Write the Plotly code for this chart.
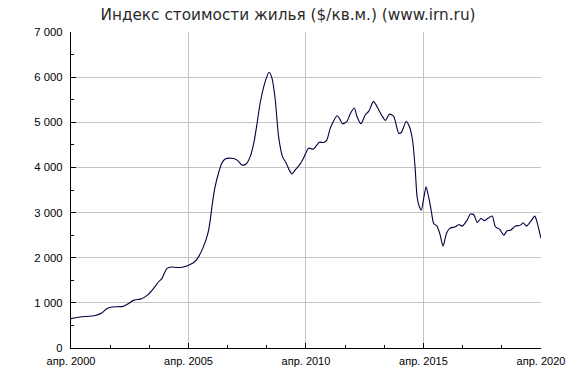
import pandas as pd
import plotly.graph_objects as go

# Months elapsed since April 2000 (fractional) and index values, $/sq.m.
month_offsets = [0, 4.6, 12.3, 15.7, 18.2, 20.8, 26.7, 29.3, 31.8, 36.1, 39.5, 42.1, 44.6, 46.4,
                 48.9, 51.5, 54.0, 57.4, 60.8, 63.4, 65.1, 67.6, 69.9, 71.1, 72.2, 73.6, 75.3,
                 77.0, 78.7, 82.1, 84.7, 87.2, 89.3, 91.5, 93.5, 94.9, 96.6, 99.2, 101.2, 102.6,
                 104.3, 106.0, 108.0, 109.9, 111.6, 112.8, 114.5, 116.7, 118.7, 121.3, 123.6,
                 124.7, 126.8, 129.0, 130.7, 132.4, 135.8, 137.0, 138.7, 140.9, 142.6, 144.7,
                 146.0, 148.1, 150.3, 152.0, 154.5, 157.1, 158.8, 160.5, 162.6, 164.8, 167.3,
                 168.7, 171.1, 172.8, 174.5, 175.8, 176.7, 177.9, 178.9, 180.1, 181.3, 182.6,
                 183.9, 185.2, 186.9, 188.3, 190.0, 191.7, 193.4, 196.3, 198.0, 199.7, 202.3,
                 203.9, 205.7, 207.4, 209.4, 211.1, 212.8, 215.1, 216.7, 218.9, 221.0, 222.7,
                 224.4, 227.0, 229.5, 230.9, 232.6, 234.6, 236.8, 237.7, 240.0]
price_usd = [650, 685, 720, 775, 870, 908, 922, 982, 1055, 1093, 1188, 1315, 1462, 1537,
             1760, 1795, 1782, 1795, 1848, 1922, 2018, 2240, 2537, 2833, 3204, 3573, 3871,
             4093, 4189, 4204, 4167, 4056, 4071, 4240, 4574, 4944, 5427, 5907, 6107, 5982,
             5500, 4684, 4240, 4093, 3929, 3856, 3944, 4056, 4204, 4427, 4404,
             4448, 4559, 4552, 4611, 4870, 5144, 5093, 4967, 5019, 5189, 5315,
             5130, 4967, 5167, 5241, 5463, 5278, 5144, 5041, 5181, 5130, 4759,
             4774, 5019, 4907, 4574, 3944, 3351, 3129, 3056, 3315, 3573, 3351,
             3056, 2759, 2700, 2538, 2256, 2538, 2649, 2685, 2737, 2700, 2833,
             2967, 2952, 2781, 2870, 2818, 2870, 2922, 2685, 2626, 2500, 2596,
             2611, 2700, 2722, 2774, 2700, 2796, 2922, 2833, 2426]

tick_dates = ["2000-04-01", "2005-04-01", "2010-04-01", "2015-04-01", "2020-04-01"]
tick_labels = ["апр. 2000", "апр. 2005", "апр. 2010", "апр. 2015", "апр. 2020"]
title_text = "Индекс стоимости жилья ($/кв.м.) (www.irn.ru)"

start = pd.Timestamp("2000-04-01")
dates = [start + pd.to_timedelta(m * 30.4375, unit="D") for m in month_offsets]
dates[-1] = pd.Timestamp("2020-04-01")

fig = go.Figure()
fig.add_trace(go.Scatter(
    x=dates, y=price_usd, mode="lines",
    line=dict(color="#000040", width=1.1, shape="spline", smoothing=0.6),
    hoverinfo="skip", showlegend=False,
))

fig.update_layout(
    width=576, height=372,
    margin=dict(l=71, r=35, t=32, b=24),
    paper_bgcolor="white", plot_bgcolor="white",
    separators=". ",
    title=dict(text=title_text, x=0.5, xanchor="center", y=0.96, yanchor="middle",
               font=dict(family="DejaVu Sans", size=15.3, color="#2a2a2a")),
    font=dict(family="Liberation Sans, Arial", size=11, color="black"),
)

fig.update_xaxes(
    type="date", range=["2000-04-01", "2020-04-01"],
    tickmode="array", tickvals=tick_dates, ticktext=tick_labels,
    showgrid=True, gridcolor="#c4c4c4", gridwidth=1,
    showline=True, linecolor="black", linewidth=1.3,
    ticks="inside", ticklen=5, tickcolor="black", tickwidth=1,
    minor=dict(tick0="2000-04-01", dtick="M20", ticks="inside", ticklen=3,
               tickcolor="black", showgrid=False),
    tickfont=dict(family="Liberation Sans, Arial", size=11, color="black"),
    ticklabelstandoff=3, automargin=False,
    zeroline=False, fixedrange=True,
)

fig.update_yaxes(
    range=[0, 7000], dtick=1000, tick0=0, tickformat=",d",
    showgrid=True, gridcolor="#c4c4c4", gridwidth=1,
    showline=True, linecolor="black", linewidth=1.3,
    ticks="inside", ticklen=5, tickcolor="black", tickwidth=1,
    minor=dict(dtick=500, ticks="inside", ticklen=3, tickcolor="black", showgrid=False),
    tickfont=dict(family="Liberation Sans, Arial", size=11.3, color="black"),
    ticklabelstandoff=5, automargin=False,
    zeroline=False, fixedrange=True,
)

fig.write_html("out.html")
